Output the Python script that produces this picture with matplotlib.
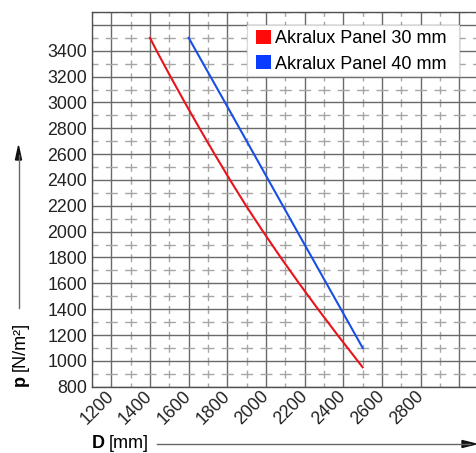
import numpy as np
import matplotlib.pyplot as plt
from matplotlib.patches import Patch, Rectangle
from matplotlib.ticker import MultipleLocator

plt.rcParams['font.family'] = ['Liberation Sans', 'DejaVu Sans']
plt.rcParams['lines.scale_dashes'] = False

# === 数据 ===
d_30 = [1400, 1434, 1506, 1580, 1656, 1734, 1814, 1897, 1985, 2076, 2171, 2269, 2370, 2474, 2500]
p_30 = [3500, 3400, 3200, 3000, 2800, 2600, 2400, 2200, 2000, 1800, 1600, 1400, 1200, 1000, 950]
d_40 = [1600, 1788, 1975, 2162, 2350, 2500]
p_40 = [3500, 3000, 2500, 2000, 1500, 1100]
labels = ['Akralux Panel 30 mm', 'Akralux Panel 40 mm']
colors = ['#e8141c', '#1a4fe6']
legend_colors = ['#ff0a0a', '#0a3cff']
x_ticks = list(range(1200, 3001, 200))
x_ticklabels = [str(v) for v in x_ticks[:-1]] + ['']
y_ticks = list(range(800, 3601, 200))
y_ticklabels = [str(v) for v in y_ticks[:-1]] + ['']

W, H = 476, 453
fig = plt.figure(figsize=(W / 100, H / 100), dpi=100)
ax = fig.add_axes([92 / W, 1 - 386.7 / H, 386.7 / W, 374.7 / H])

ax.set_xlim(1100, 3100)
ax.set_ylim(800, 3700)
ax.set_xticks(x_ticks)
ax.set_yticks(y_ticks)
ax.xaxis.set_minor_locator(MultipleLocator(100))
ax.yaxis.set_minor_locator(MultipleLocator(100))

# 网格：次网格虚线，短划居中于每条网格线交叉处
ax.grid(which='major', color='#6a6a6a', linewidth=1.0)
px = 72 / 100
xp = 19.33 * px  # 100 mm -> pt
yp = 12.92 * px  # 100 N/m2 -> pt
ax.yaxis.grid(which='minor', color='#a6a6a6', linewidth=1.0,
              linestyle=(xp * 0.31, (xp * 0.62, xp * 0.38)))
ax.xaxis.grid(which='minor', color='#a6a6a6', linewidth=1.0,
              linestyle=(yp * 0.31, (yp * 0.62, yp * 0.38)))
ax.set_axisbelow(True)

ax.plot(d_30, p_30, color=colors[0], linewidth=1.5)
ax.plot(d_40, p_40, color=colors[1], linewidth=1.5)

for s in ax.spines.values():
    s.set_color('#505050')
    s.set_linewidth(1.0)

ax.tick_params(which='both', length=0)
ax.tick_params(axis='y', pad=3.4, labelsize=12.8, labelcolor='#222222')
ax.set_yticklabels(y_ticklabels)
ax.set_xticklabels(x_ticklabels, rotation=45, ha='right', va='center',
                   rotation_mode='anchor', fontsize=12.8, color='#222222')
ax.tick_params(axis='x', pad=5)

# 图例背景框
ax.add_patch(Rectangle((246.7 / W, 1 - 76 / H), 212.6 / W, 51 / H, transform=fig.transFigure,
                       facecolor='white', edgecolor='#d8d8d8', linewidth=0.8,
                       zorder=4, clip_on=False))
handles = [Patch(facecolor=c, edgecolor='none') for c in legend_colors]
leg = ax.legend(handles, labels, loc='upper left',
                bbox_to_anchor=(255.7 / W, 1 - 30 / H), bbox_transform=fig.transFigure,
                borderaxespad=0, borderpad=0, fontsize=13, handlelength=0.83,
                handleheight=0.83, handletextpad=0.25, labelspacing=0.44, frameon=False)
leg.set_zorder(5)

# 轴标题与箭头
fig.text(91.5 / W, 1 - 444 / H, 'D', fontsize=13, fontweight='bold', va='center', ha='left')
fig.text(109 / W, 1 - 444 / H, '[mm]', fontsize=13, va='center', ha='left')
fig.add_artist(plt.Line2D([156.7 / W, 470 / W], [1 - 444 / H, 1 - 444 / H],
                          color='#666666', linewidth=1.0))
fig.text(20 / W, 1 - 386 / H, 'p', fontsize=13, fontweight='bold', rotation=90,
         va='bottom', ha='center')
fig.text(20 / W, 1 - 371 / H, '[N/m²]', fontsize=13, rotation=90, va='bottom', ha='center')
fig.add_artist(plt.Line2D([18.5 / W, 18.5 / W], [1 - 308 / H, 1 - 155 / H],
                          color='#666666', linewidth=1.0))
fig.patches.append(plt.Polygon([[462 / W, 1 - 440.5 / H], [476 / W, 1 - 444 / H], [462 / W, 1 - 447.5 / H]],
                               closed=True, color='#111111', transform=fig.transFigure))
fig.patches.append(plt.Polygon([[15.5 / W, 1 - 160 / H], [18.5 / W, 1 - 146 / H], [21.5 / W, 1 - 160 / H]],
                               closed=True, color='#111111', transform=fig.transFigure))

fig.savefig('out.png', dpi=100)
